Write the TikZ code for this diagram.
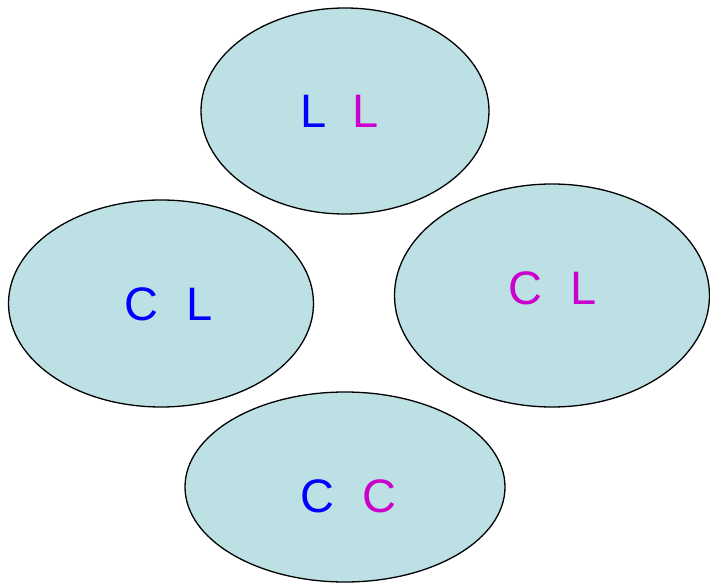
\documentclass[tikz,border=0pt]{standalone}
\usepackage{fontspec}
\setmainfont{Liberation Sans}
\definecolor{cellfill}{RGB}{188,224,228}
\definecolor{pairblue}{RGB}{0,0,255}
\definecolor{pairmag}{RGB}{204,0,204}
\begin{document}
\begin{tikzpicture}[x=1pt,y=-1pt,
  cell/.style={draw=black,line width=1.3pt,fill=cellfill},
  pair/.style={anchor=base west,inner sep=0pt,font=\fontsize{47}{47}\selectfont}]
\useasboundingbox (0,0) rectangle (710,585);
% four cells
\path[cell] (345,111) ellipse [x radius=144,y radius=103];
\path[cell] (161,303.5) ellipse [x radius=152.5,y radius=103.5];
\path[cell] (552,295.5) ellipse [x radius=157.5,y radius=111.5];
\path[cell] (345,487) ellipse [x radius=160,y radius=95];
% letter pairs
\node[pair] (top) at (300,128) {\textcolor{pairblue}{L}\hspace{26pt}\textcolor{pairmag}{L}};
\node[pair] (left) at (124,321) {\textcolor{pairblue}{C}\hspace{28pt}\textcolor{pairblue}{L}};
\node[pair] (right) at (508,305) {\textcolor{pairmag}{C}\hspace{28pt}\textcolor{pairmag}{L}};
\node[pair] (bottom) at (300,512) {\textcolor{pairblue}{C}\hspace{28pt}\textcolor{pairmag}{C}};
\end{tikzpicture}
\end{document}
